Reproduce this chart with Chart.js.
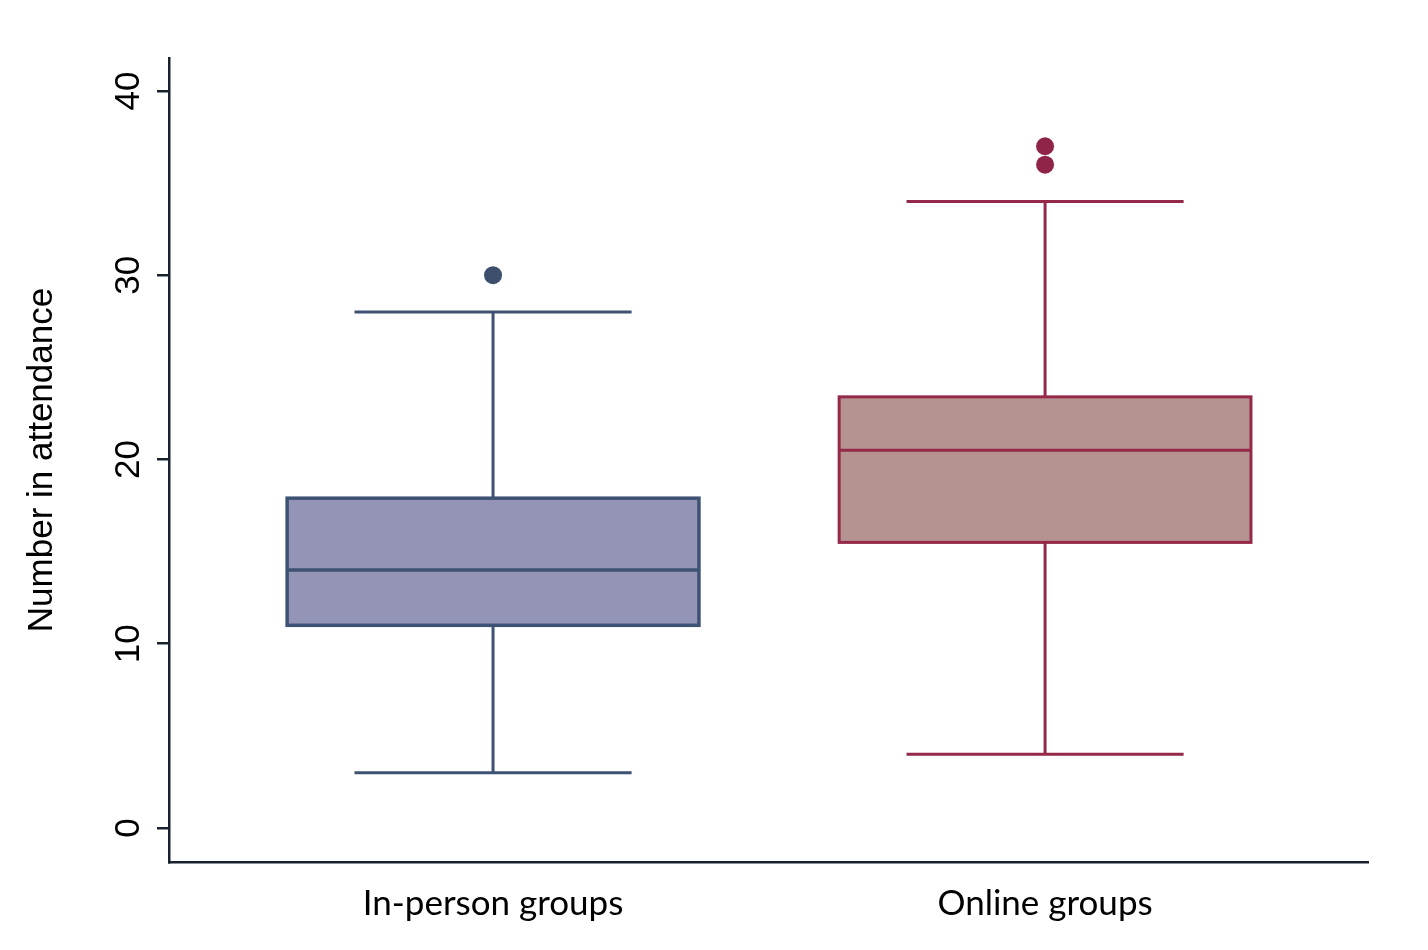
<!DOCTYPE html>
<html>
<head>
<meta charset="utf-8">
<script src="https://cdn.jsdelivr.net/npm/chart.js@4.4.1/dist/chart.umd.min.js"></script>
<style>
  html, body { margin: 0; padding: 0; background: #ffffff; }
  #wrap { width: 1428px; height: 950px; position: relative; }
</style>
</head>
<body>
<div id="wrap"><canvas id="c"></canvas></div>
<script>
// ---- data ----
const categories = ['In-person groups', 'Online groups'];
const whiskerLow = [3, 4];
const q1 = [11, 15.5];
const median = [14, 20.5];
const q3 = [17.9, 23.4];
const whiskerHigh = [28, 34];
const outliers = [[30], [36, 37]];
const yTicks = [0, 10, 20, 30, 40];

// ---- styles ----
const fillColors = ['#9394b6', '#b59391'];
const lineColors = ['#3e5373', '#95294a'];
const dotColors = ['#3e4f6d', '#8f2448'];
const BOX_HALF = 0.373;   // in x-axis units
const CAP_HALF = 0.251;
const AXIS_COLOR = '#18222e';

const boxPlugin = {
  id: 'boxes',
  beforeDatasetsDraw(chart) {
    const ctx = chart.ctx;
    const xs = chart.scales.x, ys = chart.scales.y;
    ctx.save();
    categories.forEach((c, i) => {
      const xc = xs.getPixelForValue(i);
      const xl = xs.getPixelForValue(i - BOX_HALF);
      const xr = xs.getPixelForValue(i + BOX_HALF);
      const cl = xs.getPixelForValue(i - CAP_HALF);
      const cr = xs.getPixelForValue(i + CAP_HALF);
      const yLo = ys.getPixelForValue(whiskerLow[i]);
      const yQ1 = ys.getPixelForValue(q1[i]);
      const yMed = ys.getPixelForValue(median[i]);
      const yQ3 = ys.getPixelForValue(q3[i]);
      const yHi = ys.getPixelForValue(whiskerHigh[i]);
      ctx.strokeStyle = lineColors[i];
      ctx.lineWidth = 3;
      ctx.beginPath();
      ctx.moveTo(xc, yLo); ctx.lineTo(xc, yQ1);
      ctx.moveTo(xc, yQ3); ctx.lineTo(xc, yHi);
      ctx.moveTo(cl, yLo); ctx.lineTo(cr, yLo);
      ctx.moveTo(cl, yHi); ctx.lineTo(cr, yHi);
      ctx.stroke();
      ctx.fillStyle = fillColors[i];
      ctx.fillRect(xl, yQ3, xr - xl, yQ1 - yQ3);
      ctx.lineWidth = i === 0 ? 3.5 : 3;
      ctx.strokeRect(xl, yQ3, xr - xl, yQ1 - yQ3);
      ctx.beginPath();
      ctx.moveTo(xl, yMed); ctx.lineTo(xr, yMed);
      ctx.stroke();
    });
    ctx.restore();
  }
};

const datasets = categories.map((c, i) => ({
  label: c,
  data: outliers[i].map(v => ({ x: i, y: v })),
  pointRadius: 9,
  pointHoverRadius: 9,
  pointBackgroundColor: dotColors[i],
  pointBorderColor: dotColors[i],
  pointBorderWidth: 0,
  showLine: false
}));

new Chart(document.getElementById('c'), {
  type: 'scatter',
  data: { datasets },
  plugins: [boxPlugin],
  options: {
    responsive: true,
    maintainAspectRatio: false,
    animation: false,
    devicePixelRatio: 1,
    layout: { padding: { top: 58, right: 60, left: 0, bottom: 0 } },
    plugins: { legend: { display: false }, tooltip: { enabled: false } },
    scales: {
      x: {
        type: 'linear',
        min: -0.587,
        max: 1.585,
        afterBuildTicks(s) { s.ticks = categories.map((c, i) => ({ value: i })); },
        afterFit(s) { s.height = 88; },
        grid: { display: false, drawTicks: false },
        border: { display: true, color: AXIS_COLOR, width: 2.5 },
        ticks: {
          padding: 21,
          color: '#000000',
          font: { family: 'Lato', size: 35 },
          callback: (v) => categories[v] ?? ''
        }
      },
      y: {
        min: -1.845,
        max: 41.79,
        afterBuildTicks(s) { s.ticks = yTicks.map(v => ({ value: v })); },
        afterFit(s) { s.width = 169; },
        grid: { display: true, drawOnChartArea: false, drawTicks: true, tickLength: 12, color: AXIS_COLOR, lineWidth: 2.5 },
        border: { display: true, color: AXIS_COLOR, width: 2.5 },
        ticks: {
          minRotation: 90,
          maxRotation: 90,
          crossAlign: 'center',
          padding: 8,
          color: '#000000',
          font: { family: 'Liberation Sans', size: 35 }
        },
        title: {
          display: true,
          text: 'Number in attendance',
          color: '#000000',
          font: { family: 'Liberation Sans', size: 35 },
          padding: { top: 21, bottom: 0 }
        }
      }
    }
  }
});
</script>
</body>
</html>
